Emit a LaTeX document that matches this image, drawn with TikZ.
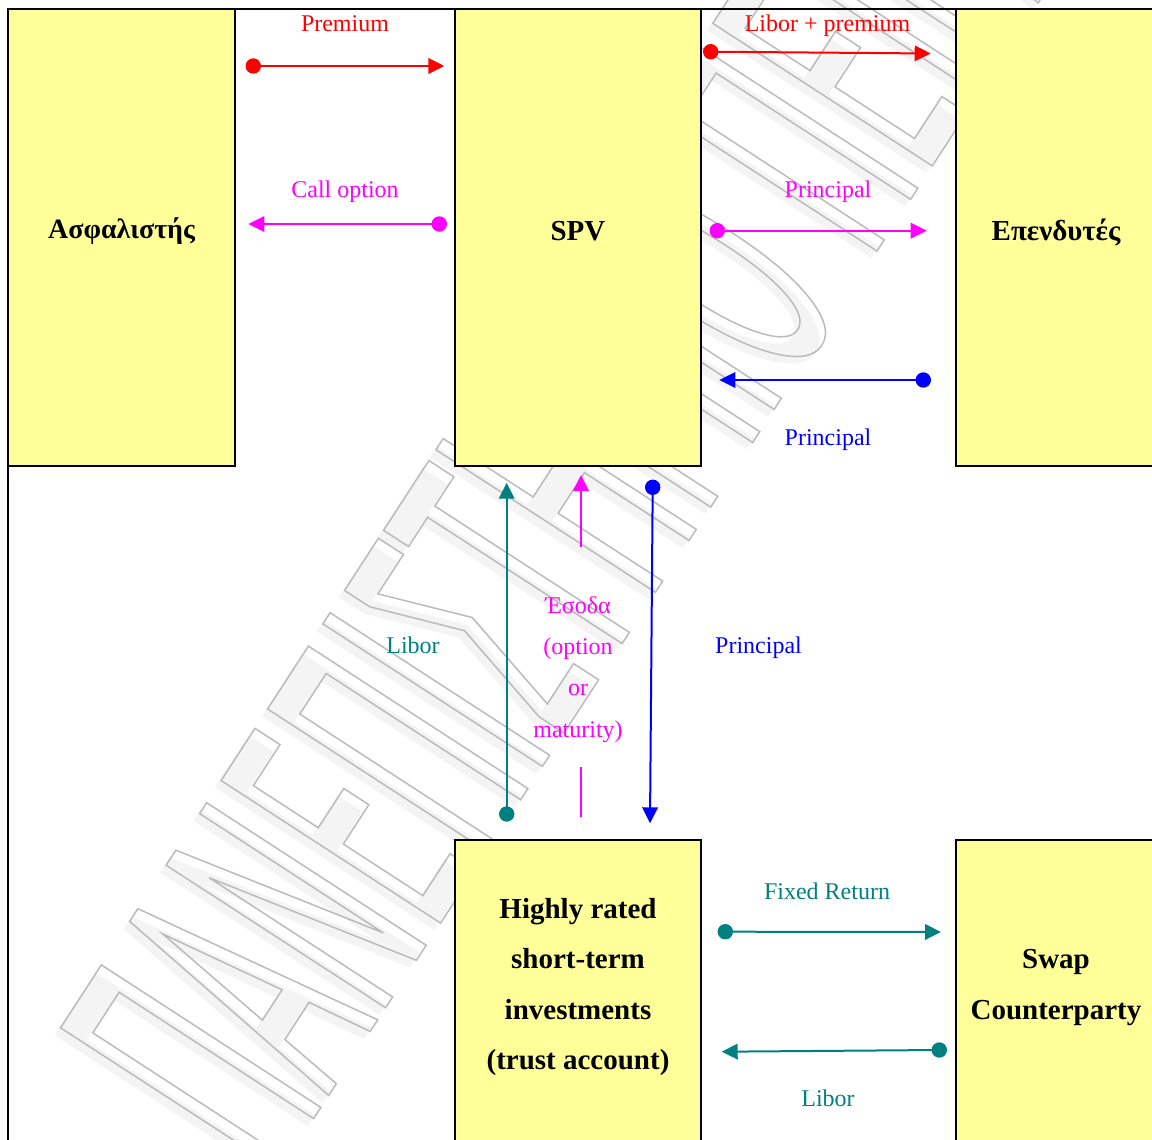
\documentclass[tikz,border=0pt]{standalone}
\usepackage{fontspec}
\setmainfont{Liberation Serif}
\newfontfamily\wmfont{DejaVu Sans}[FakeStretch=0.376]
\usetikzlibrary{arrows.meta}

\definecolor{cellyellow}{HTML}{FFFF99}
\definecolor{flowred}{HTML}{FF0000}
\definecolor{flowmag}{HTML}{FF00FF}
\definecolor{flowblue}{HTML}{0000FF}
\definecolor{flowteal}{HTML}{008080}
\definecolor{wmline}{HTML}{BBBBBB}
\definecolor{wmhaze}{HTML}{F4F4F4}

% diagonal background lettering: outlined (stroked) glyphs
\newcommand\wmtext{\wmfont\fontsize{359}{359}\selectfont ΠΑΝΕΠΙΣΤΗΜΙΟ ΠΕΙΡΑΙΩΣ}
\newcommand\wmoutline{\special{pdf:literal direct 1.5 w 1 Tr}\wmtext\special{pdf:literal direct 0 Tr}}

\begin{document}
\begin{tikzpicture}[x=1pt,y=-1pt,
  cellbox/.style={draw=black, line width=2.5pt, fill=cellyellow, inner sep=0pt},
  party/.style={font=\fontsize{29}{29}\selectfont\bfseries, inner sep=0pt, anchor=base},
  lab/.style={font=\fontsize{24}{24}\selectfont, inner sep=0pt, anchor=base},
  flow/.style={line width=2pt, -{Triangle[length=16pt,width=15.5pt]}},
  plain/.style={line width=2pt},
  dotnode/.style={circle, inner sep=0pt, minimum size=15.4pt},
  wmstyle/.style={rotate=57, anchor=base west, inner sep=0pt},
]
\useasboundingbox (0,0) rectangle (1152,1140);
\begin{scope}
\clip (0,0) rectangle (1152,1140);
\fill[white] (0,0) rectangle (1152,1140);

% background lettering: soft shade, then outline
\node[wmstyle, text=wmhaze] (wm-shade) at (267.3,1189.3) {\wmtext};
\node[wmstyle, text=wmline] (wm) at (272.7,1181.6) {\wmoutline};

% outer frame
\draw[line width=2.5pt] (8,1150) -- (8,9) -- (1165,9);

% parties
\node[cellbox, minimum width=227pt, minimum height=457pt] (ins) at (121.5,237.5) {};
\node[cellbox, minimum width=246pt, minimum height=457pt] (spv) at (578,237.5) {};
\node[cellbox, minimum width=200pt, minimum height=457pt] (inv) at (1056,237.5) {};
\node[cellbox, minimum width=246pt, minimum height=320pt] (hri) at (578,1000) {};
\node[cellbox, minimum width=200pt, minimum height=320pt] (swp) at (1056,1000) {};

\node[party, font=\fontsize{28}{28}\selectfont\bfseries] (ins-t) at (121.5,238) {Ασφαλιστής};
\node[party] (spv-t) at (578,240) {SPV};
\node[party] (inv-t) at (1056,240) {Επενδυτές};
\node[party] (hri-t1) at (578,918) {Highly rated};
\node[party] (hri-t2) at (578,968) {short-term};
\node[party] (hri-t3) at (578,1019) {investments};
\node[party] (hri-t4) at (578,1069) {(trust account)};
\node[party] (swp-t1) at (1056,968) {Swap};
\node[party] (swp-t2) at (1056,1019) {Counterparty};

% insurer <-> SPV
\node[dotnode, fill=flowred] (prem-a) at (253.3,66) {};
\coordinate (prem-b) at (444.3,66);
\draw[flow, flowred] (prem-a.center) -- (prem-b);
\node[lab, text=flowred] (prem-l) at (345,32) {Premium};

\node[dotnode, fill=flowmag] (call-a) at (439.3,224) {};
\coordinate (call-b) at (248.3,224);
\draw[flow, flowmag] (call-a.center) -- (call-b);
\node[lab, text=flowmag] (call-l) at (345,197) {Call option};

% SPV <-> investors
\node[dotnode, fill=flowred] (libp-a) at (710.7,51.7) {};
\coordinate (libp-b) at (930.7,53.5);
\draw[flow, flowred] (libp-a.center) -- (libp-b);
\node[lab, text=flowred] (libp-l) at (827.5,32) {Libor + premium};

\node[dotnode, fill=flowmag] (prm-a) at (717.3,230.7) {};
\coordinate (prm-b) at (926.7,230.7);
\draw[flow, flowmag] (prm-a.center) -- (prm-b);
\node[lab, text=flowmag] (prm-l) at (828,197) {Principal};

\node[dotnode, fill=flowblue] (prb-a) at (923.3,380) {};
\coordinate (prb-b) at (719.3,380);
\draw[flow, flowblue] (prb-a.center) -- (prb-b);
\node[lab, text=flowblue] (prb-l) at (828,445) {Principal};

% trust account <-> SPV
\node[dotnode, fill=flowteal] (libv-a) at (506.7,814) {};
\coordinate (libv-b) at (506.7,482.7);
\draw[flow, flowteal] (libv-a.center) -- (libv-b);
\node[lab, text=flowteal] (libv-l) at (413,653) {Libor};

\coordinate (eso-a) at (581,816.7);
\coordinate (eso-b) at (581,767.3);
\coordinate (eso-c) at (581,546.7);
\coordinate (eso-d) at (581,475);
\draw[plain, flowmag] (eso-a) -- (eso-b);
\draw[flow, flowmag] (eso-c) -- (eso-d);
\node[lab, text=flowmag] (eso-l1) at (578,613) {Έσοδα};
\node[lab, text=flowmag] (eso-l2) at (578,654) {(option};
\node[lab, text=flowmag] (eso-l3) at (578,695) {or};
\node[lab, text=flowmag] (eso-l4) at (578,737) {maturity)};

\node[dotnode, fill=flowblue] (prv-a) at (652.7,487.3) {};
\coordinate (prv-b) at (650,823.3);
\draw[flow, flowblue] (prv-a.center) -- (prv-b);
\node[lab, text=flowblue] (prv-l) at (758.5,653) {Principal};

% trust account <-> swap counterparty
\node[dotnode, fill=flowteal] (fix-a) at (725.3,931.7) {};
\coordinate (fix-b) at (941,932);
\draw[flow, flowteal] (fix-a.center) -- (fix-b);
\node[lab, text=flowteal] (fix-l) at (827,899) {Fixed Return};

\node[dotnode, fill=flowteal] (lib-a) at (939.3,1050) {};
\coordinate (lib-b) at (721.7,1051.7);
\draw[flow, flowteal] (lib-a.center) -- (lib-b);
\node[lab, text=flowteal] (lib-l) at (828,1106) {Libor};
\end{scope}
\end{tikzpicture}
\end{document}
